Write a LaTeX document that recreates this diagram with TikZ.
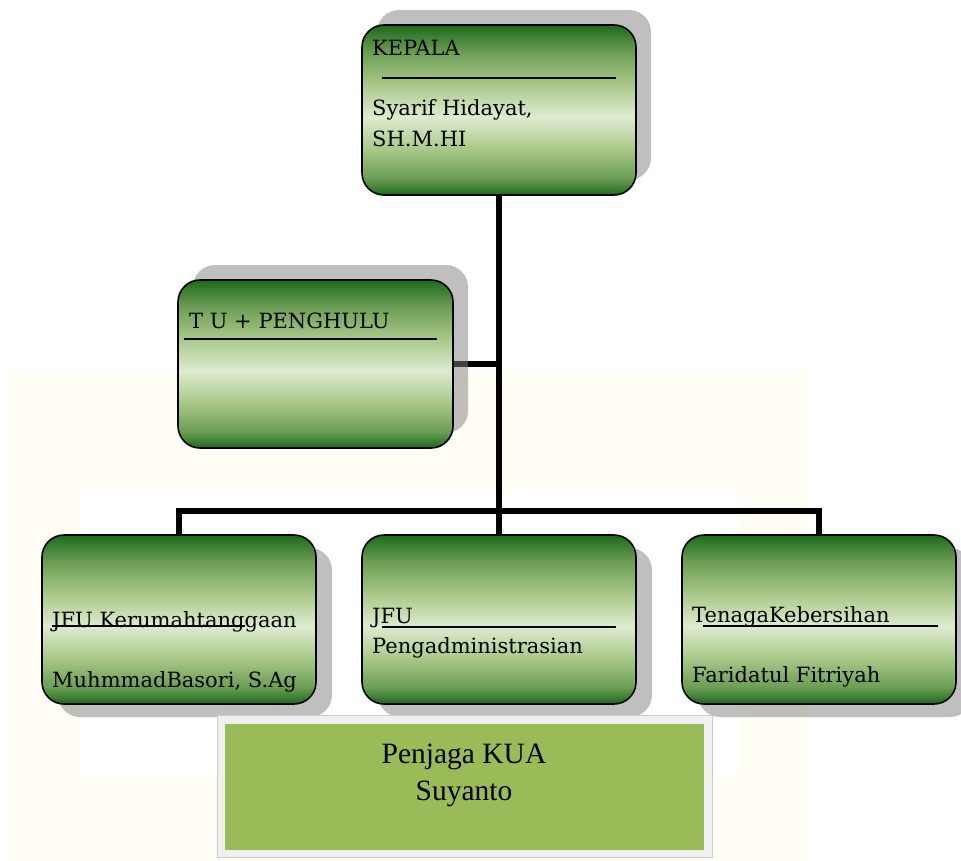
\documentclass[tikz,border=0pt]{standalone}
\usepackage{fontspec}
\setmainfont{Liberation Serif}
\newfontfamily\boxfamily{DejaVu Serif}
\usepackage{tikz}
\usetikzlibrary{shapes,calc,backgrounds,positioning,shadows}

\definecolor{gdark}{RGB}{28,106,28}
\definecolor{gmid}{RGB}{108,158,84}
\definecolor{glight}{RGB}{172,202,140}
\definecolor{gpale}{RGB}{222,235,208}
\definecolor{guardgreen}{RGB}{155,187,89}
\definecolor{guardframe}{RGB}{240,240,240}
\definecolor{markcream}{RGB}{255,253,244}

\pgfdeclareverticalshading{boxgreen}{100bp}{color(0bp)=(gdark); color(25bp)=(gdark); color(30bp)=(gmid); color(39bp)=(glight); color(48bp)=(gpale); color(57bp)=(glight); color(67bp)=(gmid); color(75bp)=(gdark); color(100bp)=(gdark)}

\newcommand{\boxtext}{\boxfamily\fontsize{21}{25}\selectfont}

\begin{document}
\begin{tikzpicture}[x=1pt, y=-1pt]
        \tikzset{unit/.style={shape=rectangle, rounded corners=22pt, draw=black, line width=1.6pt, shading=boxgreen, minimum width=274pt, minimum height=169pt, inner sep=0pt}}
        \tikzset{upshadow/.style={general shadow={fill=black!50, opacity=0.5, shadow xshift=15pt, shadow yshift=15pt}}}
        \tikzset{downshadow/.style={general shadow={fill=black!50, opacity=0.5, shadow xshift=16pt, shadow yshift=-13pt}}}
        \tikzset{lbl/.style={anchor=base west, inner sep=0pt, font=\boxtext}}
        \tikzset{guardlbl/.style={anchor=base, inner sep=0pt, font=\fontsize{29.5}{37}\selectfont}}
        \tikzset{rule/.style={line width=1.3pt}}
        \tikzset{conn/.style={line width=6pt, line join=miter}}
        \useasboundingbox (0,0) rectangle (961,860);

        % boxes
        \node [unit, upshadow, name=kepala, minimum height=170pt] at (499,110) {};
        \node [unit, upshadow, name=tu, minimum width=275pt, minimum height=168pt] at (315.5,364) {};
        \node [unit, downshadow, name=jfuk] at (179,619.5) {};
        \node [unit, downshadow, name=jfup] at (499,619.5) {};
        \node [unit, downshadow, name=tenaga] at (819,619.5) {};

        % texts
        \node [lbl, name=kepalaTitle] at (372,55) {KEPALA};
        \draw [rule] (382,78) -- (616,78);
        \node [lbl, name=kepalaName] at (372,115) {Syarif Hidayat,};
        \node [lbl, name=kepalaDeg] at (372,146) {SH.M.HI};

        \node [lbl, name=tuTitle] at (189,328) {T U + PENGHULU};
        \draw [rule] (184,339) -- (437,339);

        \node [lbl, name=jfukTitle] at (52,627) {JFU Kerumahtanggaan};
        \draw [rule] (52,626) -- (245,626);
        \node [lbl, name=jfukName] at (52,687) {MuhmmadBasori, S.Ag};

        \node [lbl, name=jfupTitle] at (372,623) {JFU};
        \draw [rule] (382,627) -- (616,627);
        \node [lbl, name=jfupName] at (372,653) {Pengadministrasian};

        \node [lbl, name=tenagaTitle] at (692,622) {TenagaKebersihan};
        \draw [rule] (703,626) -- (938,626);
        \node [lbl, name=tenagaName] at (692,682) {Faridatul Fitriyah};

        % penjaga
        \draw [fill=guardframe, draw=black!20, line width=0.8pt] (217,715) rectangle (712,857);
        \node [name=penjaga, fill=guardgreen, minimum width=479pt, minimum height=126pt, inner sep=0pt] at (464.5,787) {};
        \node [guardlbl, name=penjagaTitle] at (464,763) {Penjaga KUA};
        \node [guardlbl, name=penjagaName] at (464,800) {Suyanto};

        % connectors
        \coordinate (bar) at (0,511);
        \begin{scope}[on background layer]
            \fill [markcream, even odd rule] (10,372) rectangle (808,860) (80,490) rectangle (739,776);
            \draw [conn] (kepala.south) -- (jfup.north);
            \draw [conn] (tu.east) -- (tu.east -| kepala.south);
            \draw [conn] (jfuk.north) -- (jfuk.north |- bar) -- (tenaga.north |- bar) -- (tenaga.north);
        \end{scope}
\end{tikzpicture}
\end{document}
